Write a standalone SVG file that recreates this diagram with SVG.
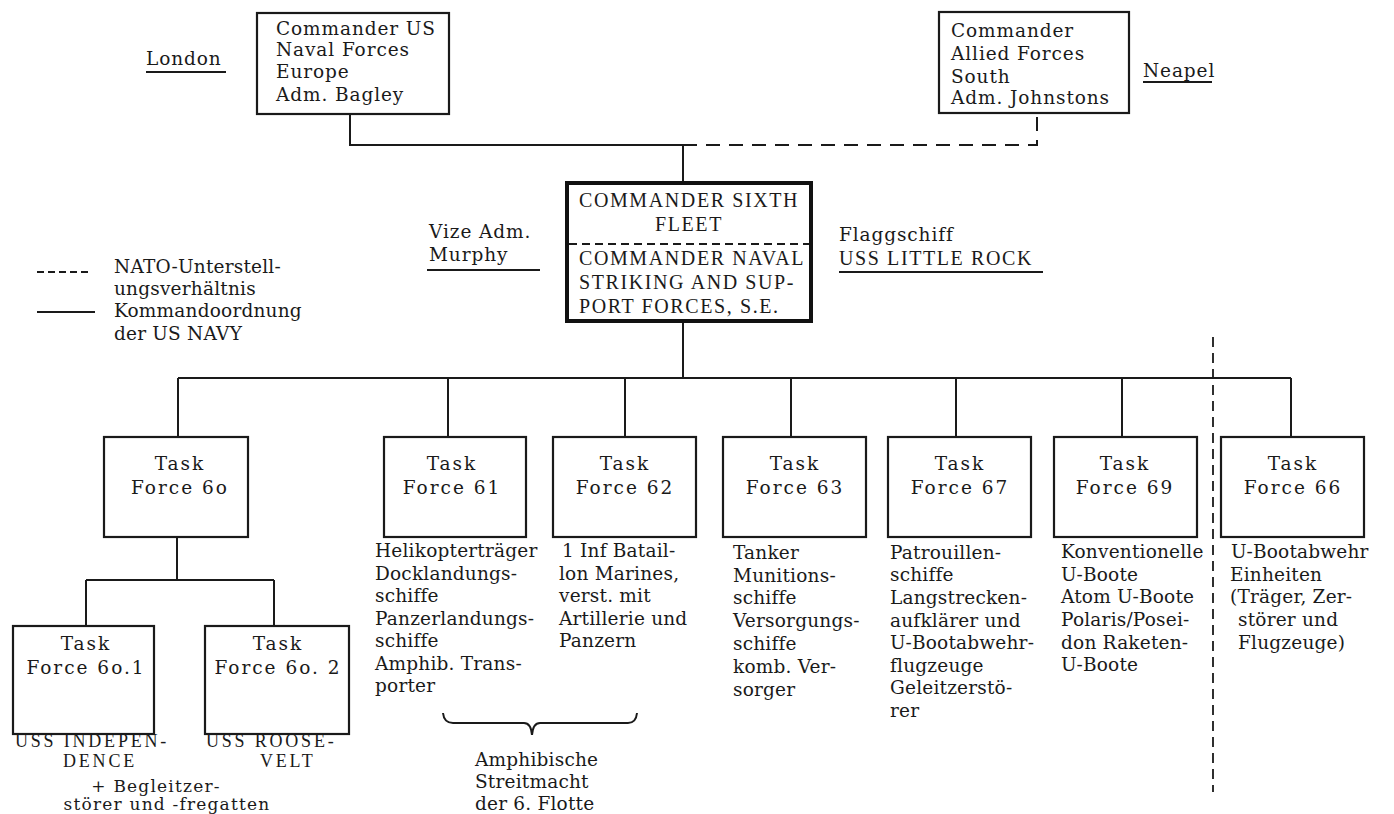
<svg xmlns="http://www.w3.org/2000/svg" width="1394" height="814" viewBox="0 0 1394 814">
<style>
.bg{fill:#ffffff}
.box{fill:#ffffff;stroke:#1a1a1a;stroke-width:2.2}
.bold{fill:#ffffff;stroke:#111;stroke-width:4}
.ln{fill:none;stroke:#1a1a1a;stroke-width:2}
.dash{fill:none;stroke:#1a1a1a;stroke-width:2;stroke-dasharray:14 9}
.sep{fill:none;stroke:#1a1a1a;stroke-width:1.8;stroke-dasharray:10 6}
.div{fill:none;stroke:#1a1a1a;stroke-width:2;stroke-dasharray:8 5}
.t{font-family:"DejaVu Serif","Liberation Serif",serif;font-size:18.5px;fill:#1a1a1a;letter-spacing:0.2px}
.ts{font-family:"DejaVu Serif","Liberation Serif",serif;font-size:17px;fill:#1a1a1a;letter-spacing:1.2px;text-anchor:middle}
.tb{font-family:"DejaVu Serif","Liberation Serif",serif;font-size:18.5px;fill:#1a1a1a;letter-spacing:0.9px}
.tf{font-family:"DejaVu Serif","Liberation Serif",serif;font-size:18.5px;fill:#1a1a1a;letter-spacing:2px;text-anchor:middle}
.c{font-family:"Liberation Serif",serif;font-size:20px;fill:#1a1a1a;letter-spacing:1.6px}
.cs{font-family:"Liberation Serif",serif;font-size:18px;fill:#1a1a1a;letter-spacing:2.8px}
</style>
<rect class="bg" x="0" y="0" width="1394" height="814"/>

<g id="connectors">
  <path class="ln" d="M350,114 V145 H683 V183"/>
  <path class="dash" d="M683,145 H1037 V113"/>
  <path class="ln" d="M683,321 V378"/>
  <path class="ln" d="M178,378 H1291"/>
  <path class="ln" d="M178,378 V437 M448,378 V437 M625,378 V437 M791,378 V437 M956,378 V437 M1122,378 V437 M1291,378 V437"/>
  <path class="ln" d="M177,537 V580 M86,580 H274 M86,580 V626 M274,580 V626"/>
  <path class="sep" d="M1213,337 V792"/>
  <path class="ln" d="M443,713 Q444,723 453,723 H524 Q531,723 532,735 Q533,723 540,723 H628 Q636,723 637,713"/>
</g>

<g id="legend">
  <path class="ln" d="M37,272 H90" stroke-dasharray="7 4"/>
  <text class="t" x="114" y="273">NATO-Unterstell-</text>
  <text class="t" x="114" y="295">ungsverhältnis</text>
  <path class="ln" d="M37,312 H95"/>
  <text class="t" x="114" y="317">Kommandoordnung</text>
  <text class="t" x="114" y="340">der US NAVY</text>
</g>

<g id="cusnaveur">
  <rect class="box" x="257" y="13" width="192" height="101"/>
  <text class="tb" x="276" y="35">Commander US</text>
  <text class="tb" x="276" y="56">Naval Forces</text>
  <text class="tb" x="276" y="78">Europe</text>
  <text class="tb" x="276" y="101">Adm. Bagley</text>
</g>
<g id="london">
  <text class="tb" x="146" y="65">London</text>
  <path class="ln" d="M146,72 H226" stroke-width="1.6"/>
</g>

<g id="cafsouth">
  <rect class="box" x="939" y="12" width="190" height="101"/>
  <text class="tb" x="951" y="37">Commander</text>
  <text class="tb" x="951" y="60">Allied Forces</text>
  <text class="tb" x="951" y="83">South</text>
  <text class="tb" x="951" y="104">Adm. Johnstons</text>
</g>
<g id="neapel">
  <text class="tb" x="1143" y="77">Neapel</text>
  <path class="ln" d="M1143,82 H1212" stroke-width="1.6"/>
</g>

<g id="sixthfleet">
  <rect class="bold" x="567" y="183" width="244" height="138"/>
  <path class="div" d="M569,244 H809"/>
  <text class="c" x="579" y="207">COMMANDER SIXTH</text>
  <text class="c" x="689" y="231" text-anchor="middle">FLEET</text>
  <text class="c" x="579" y="265">COMMANDER NAVAL</text>
  <text class="c" x="579" y="289">STRIKING AND SUP-</text>
  <text class="c" x="579" y="313">PORT FORCES, S.E.</text>
</g>
<g id="murphy">
  <text class="tb" x="429" y="238">Vize Adm.</text>
  <text class="tb" x="429" y="261">Murphy</text>
  <path class="ln" d="M427,270 H540" stroke-width="1.6"/>
</g>
<g id="flagship">
  <text class="tb" x="839" y="241">Flaggschiff</text>
  <text class="c" x="839" y="265">USS LITTLE ROCK</text>
  <path class="ln" d="M839,272 H1043" stroke-width="1.6"/>
</g>

<g id="tf60">
  <rect class="box" x="104" y="437" width="144" height="100"/>
  <text class="tf" x="180" y="470">Task</text>
  <text class="tf" x="180" y="494">Force 6o</text>
</g>
<g id="tf601">
  <rect class="box" x="13" y="626" width="141" height="108"/>
  <text class="tf" x="86" y="650">Task</text>
  <text class="tf" x="86" y="674">Force 6o.1</text>
  <text class="cs" x="15" y="747">USS INDEPEN-</text>
  <text class="cs" x="63" y="767">DENCE</text>
</g>
<g id="tf602">
  <rect class="box" x="205" y="626" width="144" height="108"/>
  <text class="tf" x="278" y="650">Task</text>
  <text class="tf" x="278" y="674">Force 6o. 2</text>
  <text class="cs" x="206" y="747">USS ROOSE-</text>
  <text class="cs" x="260" y="767">VELT</text>
</g>
<g id="escort">
  <text class="ts" x="156" y="792">+ Begleitzer-</text>
  <text class="ts" x="167" y="810">störer und -fregatten</text>
</g>

<g id="tf61">
  <rect class="box" x="384" y="437" width="142" height="100"/>
  <text class="tf" x="452" y="470">Task</text>
  <text class="tf" x="452" y="494">Force 61</text>
  <text class="t" x="375" y="557">Helikopterträger</text>
  <text class="t" x="375" y="580">Docklandungs-</text>
  <text class="t" x="375" y="602">schiffe</text>
  <text class="t" x="375" y="625">Panzerlandungs-</text>
  <text class="t" x="375" y="647">schiffe</text>
  <text class="t" x="375" y="670">Amphib. Trans-</text>
  <text class="t" x="375" y="692">porter</text>
</g>

<g id="tf62">
  <rect class="box" x="553" y="437" width="143" height="100"/>
  <text class="tf" x="625" y="470">Task</text>
  <text class="tf" x="625" y="494">Force 62</text>
  <text class="t" x="562" y="557">1 Inf Batail-</text>
  <text class="t" x="559" y="580">lon Marines,</text>
  <text class="t" x="559" y="602">verst. mit</text>
  <text class="t" x="559" y="625">Artillerie und</text>
  <text class="t" x="559" y="647">Panzern</text>
</g>

<g id="amphib">
  <text class="t" x="475" y="766">Amphibische</text>
  <text class="t" x="475" y="788">Streitmacht</text>
  <text class="t" x="475" y="810">der 6. Flotte</text>
</g>

<g id="tf63">
  <rect class="box" x="723" y="437" width="143" height="100"/>
  <text class="tf" x="795" y="470">Task</text>
  <text class="tf" x="795" y="494">Force 63</text>
  <text class="t" x="733" y="559">Tanker</text>
  <text class="t" x="733" y="582">Munitions-</text>
  <text class="t" x="733" y="604">schiffe</text>
  <text class="t" x="733" y="627">Versorgungs-</text>
  <text class="t" x="733" y="650">schiffe</text>
  <text class="t" x="733" y="673">komb. Ver-</text>
  <text class="t" x="733" y="696">sorger</text>
</g>

<g id="tf67">
  <rect class="box" x="888" y="437" width="143" height="100"/>
  <text class="tf" x="960" y="470">Task</text>
  <text class="tf" x="960" y="494">Force 67</text>
  <text class="t" x="890" y="559">Patrouillen-</text>
  <text class="t" x="890" y="581">schiffe</text>
  <text class="t" x="890" y="604">Langstrecken-</text>
  <text class="t" x="890" y="627">aufklärer und</text>
  <text class="t" x="890" y="649">U-Bootabwehr-</text>
  <text class="t" x="890" y="672">flugzeuge</text>
  <text class="t" x="890" y="694">Geleitzerstö-</text>
  <text class="t" x="890" y="717">rer</text>
</g>

<g id="tf69">
  <rect class="box" x="1054" y="437" width="143" height="100"/>
  <text class="tf" x="1125" y="470">Task</text>
  <text class="tf" x="1125" y="494">Force 69</text>
  <text class="t" x="1061" y="558">Konventionelle</text>
  <text class="t" x="1061" y="581">U-Boote</text>
  <text class="t" x="1061" y="603">Atom U-Boote</text>
  <text class="t" x="1061" y="626">Polaris/Posei-</text>
  <text class="t" x="1061" y="649">don Raketen-</text>
  <text class="t" x="1061" y="671">U-Boote</text>
</g>

<g id="tf66">
  <rect class="box" x="1221" y="437" width="143" height="100"/>
  <text class="tf" x="1293" y="470">Task</text>
  <text class="tf" x="1293" y="494">Force 66</text>
  <text class="t" x="1231" y="558">U-Bootabwehr</text>
  <text class="t" x="1230" y="581">Einheiten</text>
  <text class="t" x="1230" y="603">(Träger, Zer-</text>
  <text class="t" x="1238" y="626">störer und</text>
  <text class="t" x="1238" y="649">Flugzeuge)</text>
</g>
</svg>
